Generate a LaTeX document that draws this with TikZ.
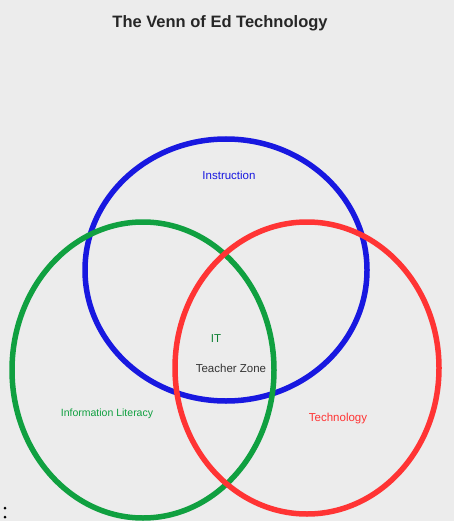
\documentclass[tikz,border=0pt]{standalone}
\usepackage{fontspec}
\setmainfont{Liberation Sans}
\begin{document}
\begin{tikzpicture}[x=1pt,y=-1pt,
  ring/.style={line width=5.5pt},
  lbl/.style={font=\fontsize{11.5}{12}\selectfont, inner sep=1pt}]
\useasboundingbox (0,0) rectangle (454,521);
\fill[gray!15] (0,0) rectangle (454,521);
\definecolor{vblue}{HTML}{1818E0}
\definecolor{vgreen}{HTML}{10A040}
\definecolor{vred}{HTML}{FF3434}
\node[lbl, font=\bfseries\fontsize{16.5}{18}\selectfont, text=black!85] (title) at (220,23) {The Venn of Ed Technology};
\draw[ring, vblue] (226,270) ellipse [x radius=141, y radius=131];
\draw[ring, vgreen] (143,370) ellipse [x radius=131, y radius=148];
\draw[ring, vred] (307,368) ellipse [x radius=132, y radius=146];
\node[lbl, text=vblue] (blab) at (229,175) {Instruction};
\node[lbl, text=vgreen!80!black] (it) at (216,339) {IT};
\node[lbl, text=black!80] (center) at (231,368) {Teacher Zone};
\node[lbl, font=\fontsize{10.5}{12}\selectfont, text=vgreen] (glab) at (107,414) {Information Literacy};
\node[lbl, text=vred] (rlab) at (338,419) {Technology};
\fill (5,508) circle (1.5) (5,517) circle (1.5);
\end{tikzpicture}
\end{document}
